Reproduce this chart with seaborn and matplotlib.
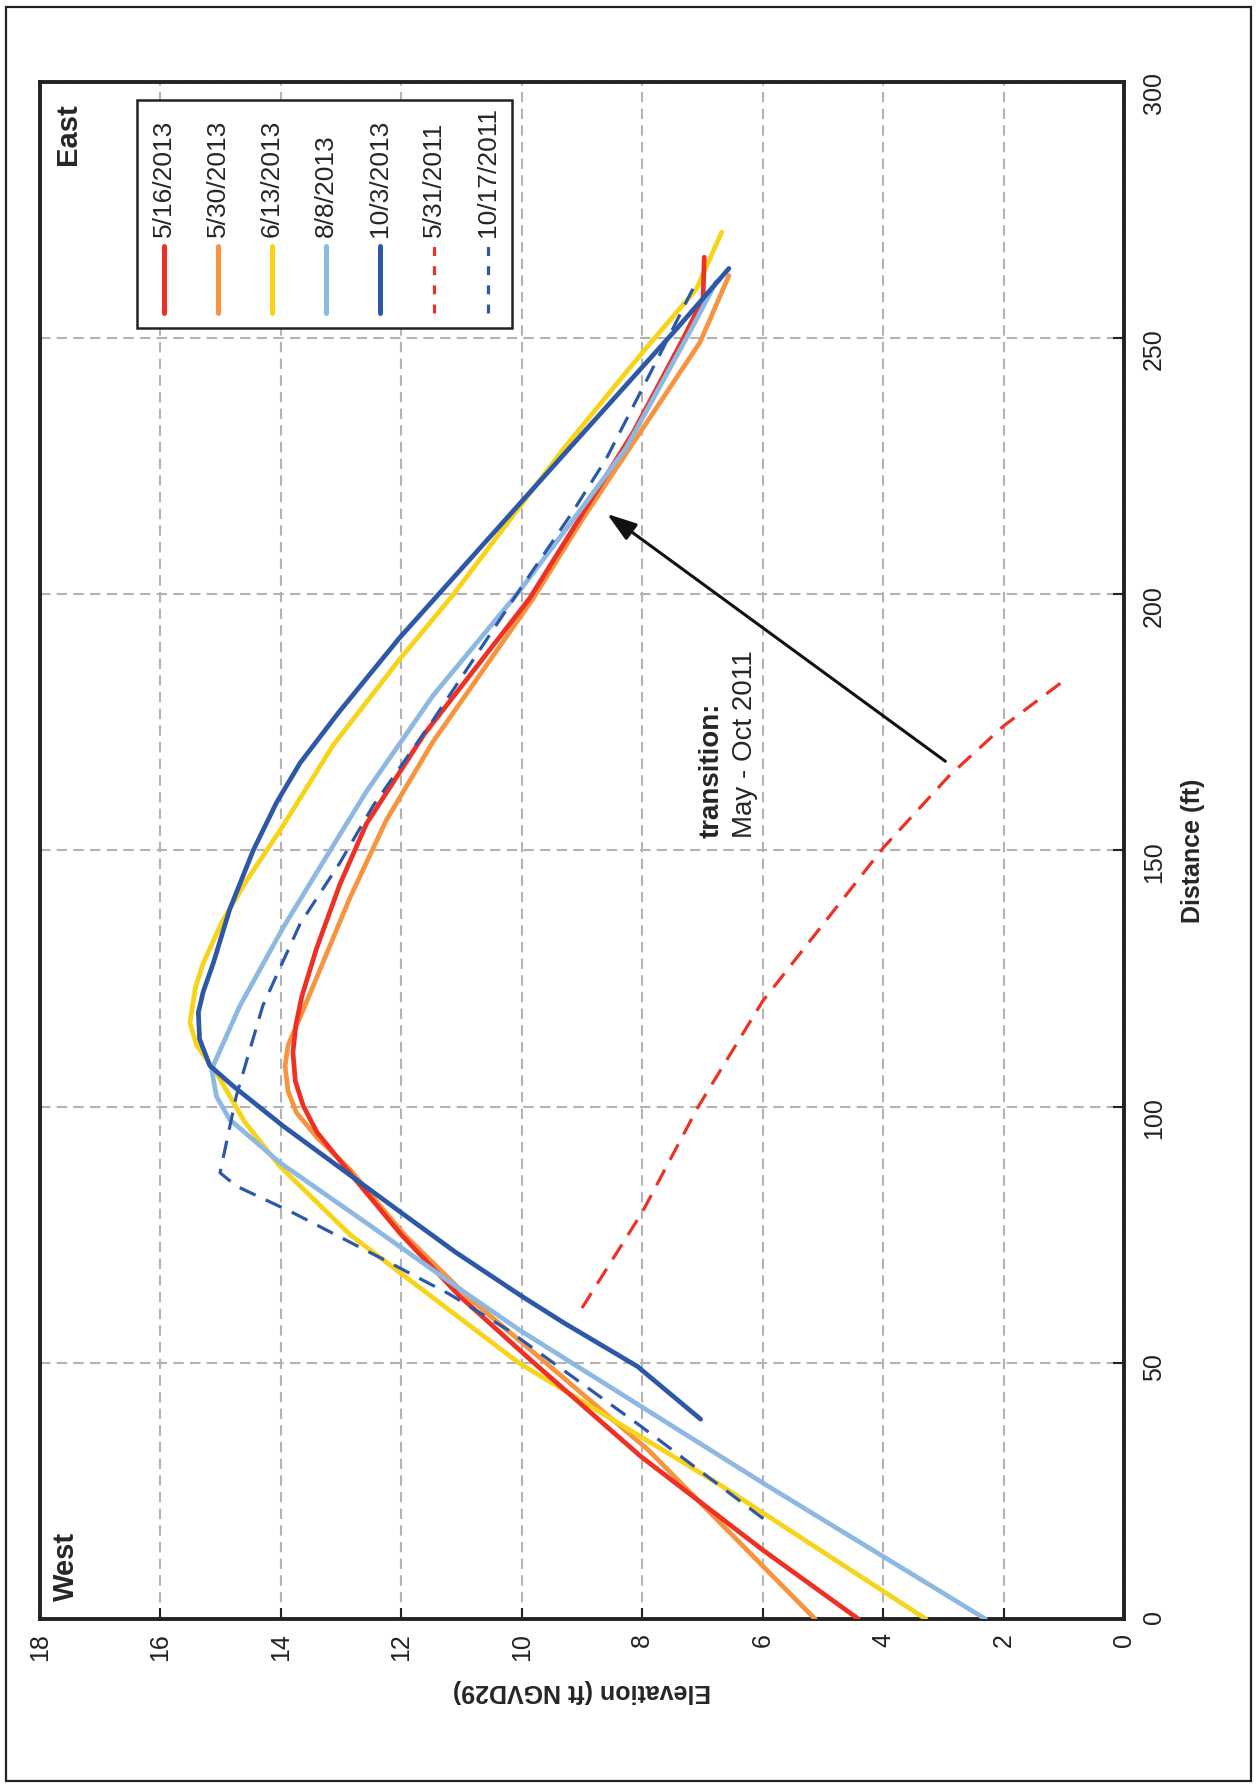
import matplotlib
matplotlib.use("Agg")
import matplotlib.pyplot as plt
import seaborn as sns
from matplotlib.patches import Rectangle

# survey dates (legend order) and line styles
labels = ['5/16/2013', '5/30/2013', '6/13/2013', '8/8/2013', '10/3/2013', '5/31/2011', '10/17/2011']
colors = ['#ee3124', '#f7943d', '#f7d417', '#8cb8e2', '#2d58a7', '#ee3124', '#2d58a7']

# profiles: distance (ft) and elevation (ft NGVD29)
dist_0516 = [0, 13.4, 31.7, 50, 63, 75, 87, 95, 100.2, 105, 110.6, 116, 121.6, 130.8, 143.4, 155.2, 172.7, 199.2, 231.6, 249.9, 257.7, 265.8]
elev_0516 = [4.41, 5.99, 8.02, 9.8, 11.03, 12.0, 12.85, 13.4, 13.63, 13.76, 13.8, 13.75, 13.65, 13.41, 13.02, 12.58, 11.62, 9.87, 8.15, 7.32, 6.99, 6.97]

dist_0530 = [0, 33, 50, 63, 75, 87.7, 94, 98.8, 103, 108, 112, 115.8, 119.7, 140.6, 155.9, 171.3, 199.2, 214.7, 249.2, 262.2]
elev_0530 = [5.13, 7.9, 9.6, 10.91, 11.95, 12.85, 13.4, 13.74, 13.88, 13.93, 13.88, 13.74, 13.6, 12.86, 12.25, 11.47, 9.81, 8.99, 7.04, 6.56]

dist_0613 = [0, 26.5, 50, 75, 88.4, 97, 106.6, 112, 116.4, 123.2, 128, 136, 144.5, 153.8, 170.6, 187.3, 199.9, 228.5, 247.3, 259.6, 270.7]
elev_0613 = [3.29, 6.75, 10.05, 12.85, 14.02, 14.6, 15.07, 15.4, 15.51, 15.42, 15.29, 14.98, 14.55, 14.02, 13.13, 12.03, 11.14, 9.3, 7.99, 7.1, 6.68]

dist_0808 = [0, 26.5, 56.5, 65, 77.3, 89.1, 97.5, 102, 107.3, 119.7, 135, 151, 161.5, 180.3, 200.6, 215.3, 228.5, 251.2, 261]
elev_0808 = [2.30, 5.99, 10.05, 11.1, 12.58, 14.02, 14.85, 15.07, 15.15, 14.68, 13.96, 13.13, 12.58, 11.47, 10.04, 9.1, 8.27, 7.21, 6.77]

dist_1003 = [39, 49.3, 57.8, 63, 71.6, 79.3, 96.2, 104, 108, 113.2, 118.4, 122.4, 128.1, 138.5, 150, 159.4, 167.1, 176.8, 191.5, 228.5, 251.8, 263.6]
elev_1003 = [7.03, 8.08, 9.3, 10.0, 11.1, 12.0, 13.96, 14.79, 15.18, 15.35, 15.37, 15.29, 15.12, 14.85, 14.46, 14.07, 13.68, 13.05, 12.03, 9.21, 7.43, 6.56]

dist_0531_11 = [60.7, 79.4, 100, 120.6, 150.5, 164.5, 174.3, 183.4]
elev_0531_11 = [9.0, 8.0, 7.07, 6.0, 4.0, 2.91, 2.0, 0.97]

dist_1017_11 = [19.6, 37.6, 56.5, 63.4, 70.2, 79.3, 84.5, 87.1, 102.1, 119.7, 135.7, 147.6, 158.7, 175.5, 199.9, 216, 226.4, 247.9, 261]
elev_1017_11 = [5.99, 8.02, 10.24, 11.2, 12.3, 13.8, 14.74, 15.01, 14.74, 14.3, 13.68, 13.02, 12.47, 11.47, 10.09, 9.16, 8.6, 7.66, 7.1]

series = [
    (dist_0516, elev_0516), (dist_0530, elev_0530), (dist_0613, elev_0613),
    (dist_0808, elev_0808), (dist_1003, elev_1003),
    (dist_0531_11, elev_0531_11), (dist_1017_11, elev_1017_11),
]
dashed = [False, False, False, False, False, True, True]
zorders = [4, 3, 3.5, 4.5, 6, 5, 5.5]

sns.set_theme(style="white")
plt.rcParams['font.family'] = ['Liberation Sans', 'DejaVu Sans']

fig = plt.figure(figsize=(12.57, 17.86), dpi=100)
ax = fig.add_axes([0.0318, 0.0935, 0.8624, 0.8606])

for (d, e), lab, c, dsh, z in zip(series, labels, colors, dashed, zorders):
    if dsh:
        sns.lineplot(x=e, y=d, sort=False, estimator=None, color=c, lw=2.3,
                     linestyle=(0, (5.5, 3.5)), ax=ax, zorder=z)
    else:
        sns.lineplot(x=e, y=d, sort=False, estimator=None, color=c, lw=3.4,
                     solid_capstyle='round', solid_joinstyle='round', ax=ax, zorder=z)

ax.set_xlim(18, 0)
ax.set_ylim(0, 300)
ax.set_xticks(range(0, 19, 2))
ax.set_yticks(range(0, 301, 50))
ax.yaxis.tick_right()
ax.yaxis.set_label_position('right')
ax.grid(True, color='#b3b3b3', linestyle=(0, (5, 3)), lw=1.5)
for s in ax.spines.values():
    s.set_linewidth(2.8)
    s.set_color('#222222')

ax.tick_params(axis='x', direction='in', length=8, width=1.5, labelrotation=90,
               labelsize=18, pad=10, bottom=True, colors='#222222')
ax.tick_params(axis='y', direction='in', length=8, width=1.5, labelrotation=90,
               labelsize=18, pad=13, right=True, left=False, colors='#222222')
ax.set_xlabel('Elevation (ft NGVD29)', rotation=180, fontsize=18,
              fontweight='bold', labelpad=13)
ax.set_ylabel('Distance (ft)', rotation=90, fontsize=18, fontweight='bold',
              labelpad=11)

# side labels
ax.text(0.026, 0.966, 'East', transform=ax.transAxes, rotation=90,
        fontsize=21, fontweight='bold', ha='center', va='center')
ax.text(0.024, 0.034, 'West', transform=ax.transAxes, rotation=90,
        fontsize=21, fontweight='bold', ha='center', va='center')

# annotation
ax.annotate('', xy=(8.62, 216.0), xytext=(2.93, 167.1),
            arrowprops=dict(arrowstyle='-|>,head_length=0.9,head_width=0.3',
                            color='#111111', lw=2.2, mutation_scale=20),
            zorder=7)
ax.text(6.85, 152.5, 'transition:', rotation=90, rotation_mode='anchor',
        ha='left', va='center', fontsize=20, fontweight='bold')
ax.text(6.3, 152.5, 'May - Oct 2011', rotation=90, rotation_mode='anchor',
        ha='left', va='center', fontsize=20)

# vertical legend box
ax.add_patch(Rectangle((0.0895, 0.840), 0.3455, 0.148, transform=ax.transAxes,
                       fill=True, facecolor='white', edgecolor='#222222',
                       lw=1.8, zorder=8))
for i, (lab, c, dsh) in enumerate(zip(labels, colors, dashed)):
    lx = (164 + 54 * i - 40) / 1084
    if dsh:
        ax.plot([lx, lx], [0.850, 0.893], transform=ax.transAxes, color=c,
                lw=2.3, linestyle=(0, (2.8, 3.2)), zorder=9)
    else:
        ax.plot([lx, lx], [0.850, 0.893], transform=ax.transAxes, color=c,
                lw=3.6, solid_capstyle='round', zorder=9)
    ax.text(lx, 0.899, lab, transform=ax.transAxes, rotation=90,
            rotation_mode='anchor', ha='left', va='center', fontsize=19,
            zorder=9)

# page border
fig.patches.append(Rectangle((0.005, 0.003), 0.99, 0.993, transform=fig.transFigure,
                             fill=False, edgecolor='#222222', lw=1.6))

fig.savefig('out.png', dpi=100, facecolor='white')
